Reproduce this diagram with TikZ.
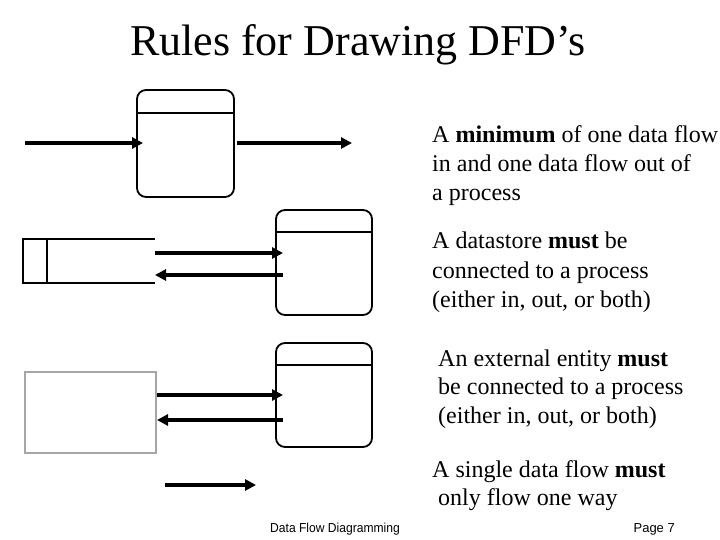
\documentclass[tikz,border=0pt]{standalone}
\usepackage{fontspec}
\setmainfont{Liberation Serif}
\usetikzlibrary{arrows.meta}
\begin{document}
\begin{tikzpicture}[x=1pt,y=-1pt,
  proc/.style={draw,line width=1.8pt,rounded corners=9pt},
  flow/.style={line width=4pt,-{Triangle[length=11pt,width=11pt]}},
  txt/.style={anchor=base west,inner sep=0pt,font=\fontsize{24}{26}\selectfont}]
\useasboundingbox (0,0) rectangle (720,540);
\node[font=\fontsize{44}{48}\selectfont] (title) at (358,45) {Rules for Drawing DFD’s};
% process 1
\draw[proc] (137,90) rectangle (234,197);
\draw[line width=1.5pt] (137,113) -- (234,113);
\coordinate (a1) at (25,143); \coordinate (b1) at (143,143);
\coordinate (a2) at (237,143); \coordinate (b2) at (352,143);
\draw[flow] (a1) -- (b1);
\draw[flow] (a2) -- (b2);
\node[txt] (t1a) at (432,143) {A \textbf{minimum} of one data flow};
\node[txt] (t1b) at (432,172) {in and one data flow out of};
\node[txt] (t1c) at (432,201) {a process};
% process 2 + datastore
\draw[proc] (276,210) rectangle (372,315);
\draw[line width=1.5pt] (276,232) -- (372,232);
\draw[line width=1.2pt] (155,239) -- (23,239) -- (23,283) -- (155,283);
\draw[line width=1.2pt] (47,239) -- (47,283);
\coordinate (c1) at (155,253); \coordinate (d1) at (283,253);
\coordinate (c2) at (283,275); \coordinate (d2) at (155,275);
\draw[flow] (c1) -- (d1);
\draw[flow] (c2) -- (d2);
\node[txt] (t2a) at (432,248) {A datastore \textbf{must} be};
\node[txt] (t2b) at (432,278) {connected to a process};
\node[txt] (t2c) at (432,307) {(either in, out, or both)};
% process 3 + entity
\draw[proc] (276,343) rectangle (372,447);
\draw[line width=1.5pt] (276,365) -- (372,365);
\draw[line width=1.4pt,draw=gray!70] (25,372) rectangle (156,453);
\coordinate (e1) at (157,395); \coordinate (f1) at (283,395);
\coordinate (e2) at (283,420); \coordinate (f2) at (157,420);
\draw[flow] (e1) -- (f1);
\draw[flow] (e2) -- (f2);
\node[txt] (t3a) at (438,366) {An external entity \textbf{must}};
\node[txt] (t3b) at (438,394) {be connected to a process};
\node[txt] (t3c) at (438,423) {(either in, out, or both)};
% single flow
\coordinate (g1) at (165,485); \coordinate (h1) at (256,485);
\draw[flow] (g1) -- (h1);
\node[txt] (t4a) at (432,477) {A single data flow \textbf{must}};
\node[txt] (t4b) at (438,505) {only flow one way};
% footer
\node[font=\fontsize{13}{15}\selectfont\fontspec{Liberation Sans}\addfontfeature{FakeStretch=0.93}, anchor=base west,inner sep=0pt] (f) at (270,532) {Data Flow Diagramming};
\node[font=\fontsize{13}{15}\selectfont\fontspec{Liberation Sans}, anchor=base east,inner sep=0pt] (p) at (675,532) {Page 7};
\end{tikzpicture}
\end{document}
